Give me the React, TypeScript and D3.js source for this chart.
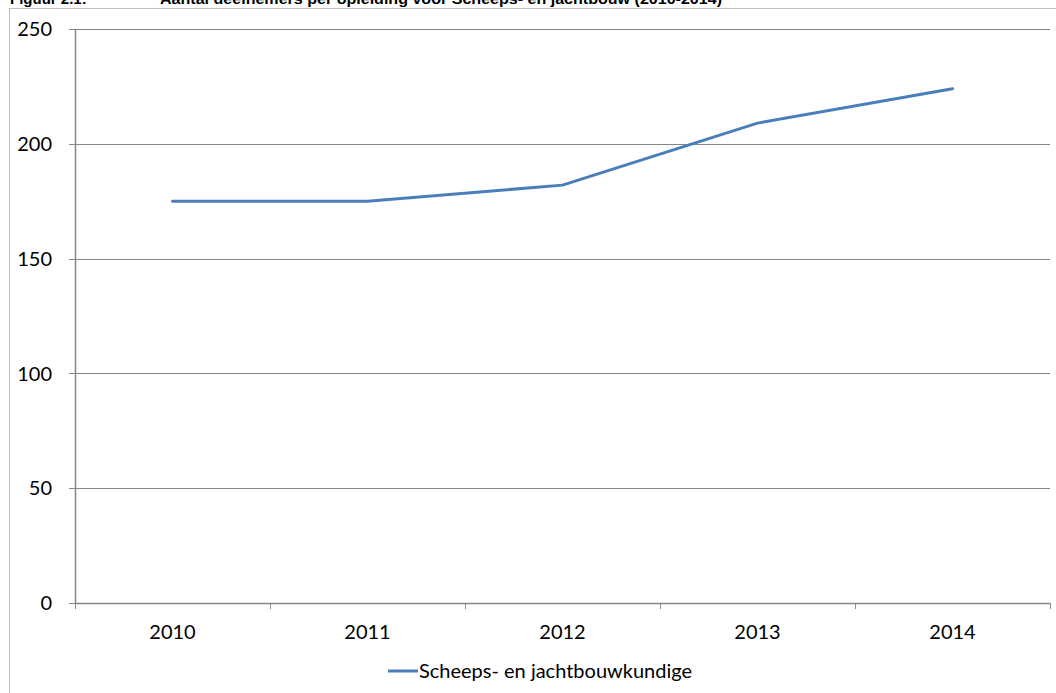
import React from "react";
import * as d3 from "d3";

const categories = ["2010", "2011", "2012", "2013", "2014"];
const seriesName = "Scheeps- en jachtbouwkundige";
const values = [175, 175, 182, 209, 224];
const yTicks = [0, 50, 100, 150, 200, 250];
const titleLabel = "Figuur 2.1:";
const titleText = "Aantal deelnemers per opleiding voor Scheeps- en jachtbouw (2010-2014)";

export default function App() {
  const W = 1056;
  const H = 693;
  const left = 75;
  const right = 1050;
  const top = 29;
  const bottom = 603;

  const x = d3.scaleBand<string>().domain(categories).range([left, right]).padding(0);
  const y = d3.scaleLinear().domain([0, 250]).range([bottom, top]);

  const line = d3
    .line<number>()
    .x((_, i) => (x(categories[i]) as number) + x.bandwidth() / 2)
    .y((d) => y(d));

  const edges = categories.map((c) => x(c) as number).concat([right]);
  const font = "Lato, 'Open Sans', sans-serif";
  const grid = "#868686";

  return (
    <svg
      width={W}
      height={H}
      style={{ position: "absolute", left: 0, top: 0, background: "#fff" }}
    >
      <rect x={0} y={0} width={W} height={H} fill="#fff" />
      <text
        x={10}
        y={4}
        fontFamily="'Liberation Sans', Arial, sans-serif"
        fontWeight="bold"
        fontSize={15}
        fill="#000"
      >
        {titleLabel}
      </text>
      <text
        x={160}
        y={4}
        fontFamily="'Liberation Sans', Arial, sans-serif"
        fontWeight="bold"
        fontSize={15}
        fill="#000"
        textLength={562}
        lengthAdjust="spacingAndGlyphs"
      >
        {titleText}
      </text>
      <rect x={9.5} y={8.5} width={W + 10} height={H + 10} fill="none" stroke="#bfbfbf" strokeWidth={1} />

      {yTicks.map((t) => (
        <g key={t}>
          {t !== 0 && (
            <line x1={left} x2={right} y1={Math.round(y(t)) + 0.5} y2={Math.round(y(t)) + 0.5} stroke={grid} strokeWidth={1} />
          )}
          <line x1={left - 6} x2={left} y1={Math.round(y(t)) + 0.5} y2={Math.round(y(t)) + 0.5} stroke={grid} strokeWidth={1} />
          <text
            x={52}
            y={y(t)}
            dy="0.36em"
            textAnchor="end"
            fontFamily={font}
            fontSize={20}
            fill="#000"
          >
            {t}
          </text>
        </g>
      ))}

      <line x1={left + 0.5} x2={left + 0.5} y1={top} y2={bottom} stroke={grid} strokeWidth={1.5} />
      <line x1={left} x2={right} y1={bottom + 0.5} y2={bottom + 0.5} stroke={grid} strokeWidth={1.5} />
      {edges.map((e, i) => (
        <line key={i} x1={e + 0.5} x2={e + 0.5} y1={bottom} y2={bottom + 6} stroke={grid} strokeWidth={1} />
      ))}
      {categories.map((c) => (
        <text
          key={c}
          x={(x(c) as number) + x.bandwidth() / 2}
          y={639}
          textAnchor="middle"
          fontFamily={font}
          fontSize={20}
          fill="#000"
        >
          {c}
        </text>
      ))}

      <path d={line(values) || ""} fill="none" stroke="#4a7ebb" strokeWidth={3} strokeLinejoin="round" strokeLinecap="round" />

      <line x1={388} x2={418} y1={671} y2={671} stroke="#4a7ebb" strokeWidth={3} />
      <text x={419} y={678} fontFamily={font} fontSize={20} fill="#000">
        {seriesName}
      </text>
    </svg>
  );
}
